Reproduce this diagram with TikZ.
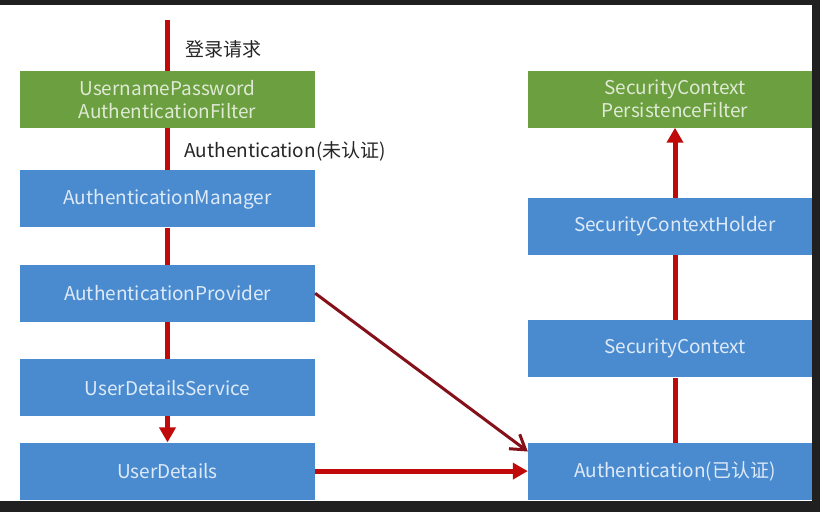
\documentclass[tikz,border=0pt]{standalone}
\usepackage{fontspec}
\setmainfont{Noto Sans CJK SC}
\usetikzlibrary{positioning, arrows.meta}
\definecolor{boxgreen}{HTML}{6C9F3F}
\definecolor{boxblue}{HTML}{4A8BD0}
\definecolor{flowred}{HTML}{C00A0A}
\definecolor{darkarrow}{HTML}{85101A}
\definecolor{framegray}{HTML}{202020}
\tikzset {
    x=1pt, y=-1pt,
    node distance=37pt,
    box/.style={rectangle, minimum width=295pt, minimum height=57pt, inner sep=0pt,
        align=center, fill=boxblue, text=white!82!boxblue,
        font=\fontsize{19}{23}\selectfont},
    filterbox/.style={box, fill=boxgreen, text=white!78!boxgreen},
    flow/.style={draw=flowred, line width=5pt},
    flowhead/.style={flow, -{Triangle[length=15pt, width=16pt]}},
    note/.style={anchor=west, text=black!85, font=\fontsize{19}{22}\selectfont}
}

\begin{document}
\begin{tikzpicture}
    \fill[white] (0,0) rectangle (820,512);
    \useasboundingbox (0,0) rectangle (820,512);

    % left column
    \node[filterbox] (upaf) at (167.5,99.5) {UsernamePassword\\AuthenticationFilter};
    \node[box, below=42pt of upaf] (manager) {AuthenticationManager};
    \node[box, below=of manager] (provider) {AuthenticationProvider};
    \node[box, below=of provider] (uds) {UserDetailsService};
    \node[box, below=26pt of uds] (userdetails) {UserDetails};

    % right column
    \node[filterbox, minimum width=294pt] (scpf) at (675,99) {SecurityContext\\PersistenceFilter};
    \node[box, minimum width=294pt, below=70pt of scpf] (holder) {SecurityContextHolder};
    \node[box, minimum width=294pt, below=65pt of holder] (context) {SecurityContext};
    \node[box, minimum width=294pt, below=65pt of context] (authok) {Authentication(已认证)};

    \coordinate (request) at (167.5,20);
    \node[note] (reqtext) at (182,49) {登录请求};
    \node[note] (unauth) at (181,151) {Authentication(未认证)};

    \draw[flow] (request) -- (upaf);
    \draw[flow] (upaf) -- (manager);
    \draw[flow] (manager) -- (provider);
    \draw[flow] (provider) -- (uds);
    \draw[flowhead] (uds) -- (userdetails);
    \draw[flowhead] (userdetails) -- (userdetails -| authok.west);
    \draw[flow] (authok) -- (context);
    \draw[flow] (context) -- (holder);
    \draw[flowhead] (holder) -- (scpf);
    \draw[draw=darkarrow, line width=3pt, -{Straight Barb[length=14pt, width=18pt]}]
        (provider.east) -- ([yshift=-9pt]authok.north west);

    % screen edge
    \fill[framegray] (0,0) rectangle (820,5);
    \fill[framegray] (0,501) rectangle (820,512);
    \fill[framegray] (812,0) rectangle (820,512);
\end{tikzpicture}
\end{document}
